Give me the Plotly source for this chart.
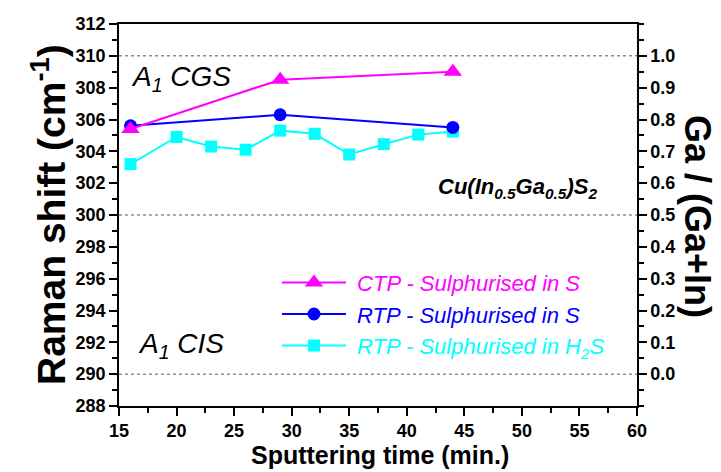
import plotly.graph_objects as go

# Raman A1 peak position vs. sputtering time for three sulphurisation routes
t_ctp = [16, 29, 44]
raman_ctp = [305.4, 308.5, 309.0]

t_rtp_s = [16, 29, 44]
raman_rtp_s = [305.6, 306.3, 305.5]

t_rtp_h2s = [16, 20, 23, 26, 29, 32, 35, 38, 41, 44]
raman_rtp_h2s = [303.2, 304.9, 304.3, 304.1, 305.3, 305.1, 303.8, 304.45, 305.05, 305.25]

names = {
    "ctp": "<span style='color:#FF00FF'>&nbsp;CTP - Sulphurised in S</span>",
    "rtp_s": "<span style='color:#0000FF'>&nbsp;RTP - Sulphurised in S</span>",
    "rtp_h2s": "<span style='color:#00FFFF'>&nbsp;RTP - Sulphurised in H<sub>2</sub>S</span>",
}

left_ticks = list(range(288, 313, 2))
right_ticks = [round(i * 0.1, 1) for i in range(11)]
x_ticks = list(range(15, 61, 5))
ref_lines = [310, 300, 290]

FONT = "Arial, Liberation Sans, sans-serif"

fig = go.Figure()
# drawn bottom-to-top: H2S series first, CTP on top; legend lists them reversed
fig.add_trace(go.Scatter(
    x=t_rtp_h2s, y=raman_rtp_h2s, name=names["rtp_h2s"], mode="lines+markers",
    line=dict(color="#00FFFF", width=2),
    marker=dict(symbol="square", size=12, color="#00FFFF")))
fig.add_trace(go.Scatter(
    x=t_rtp_s, y=raman_rtp_s, name=names["rtp_s"], mode="lines+markers",
    line=dict(color="#0000FF", width=2),
    marker=dict(symbol="circle", size=13, color="#0000FF")))
fig.add_trace(go.Scatter(
    x=t_ctp, y=raman_ctp, name=names["ctp"], mode="lines+markers",
    line=dict(color="#FF00FF", width=2),
    marker=dict(symbol="triangle-up", size=16, color="#FF00FF")))
# empty trace to activate the secondary composition axis
fig.add_trace(go.Scatter(x=[], y=[], yaxis="y2", showlegend=False, hoverinfo="skip"))

for yv in ref_lines:
    fig.add_shape(type="line", xref="paper", x0=0, x1=1, yref="y", y0=yv, y1=yv,
                  line=dict(color="#555555", width=1, dash="dot"))

tickfont = dict(family="Arial", size=18, color="black", weight="bold")
axis_common = dict(showline=True, linecolor="black", linewidth=1.5, ticks="outside",
                   ticklen=8, tickwidth=1.5, tickcolor="black", showgrid=False,
                   zeroline=False, tickmode="array", tickfont=tickfont)

fig.update_layout(
    width=721, height=472,
    margin=dict(l=119, r=84, t=24, b=66),
    plot_bgcolor="white", paper_bgcolor="white",
    font=dict(family=FONT),
    legend=dict(x=0.305, y=0.378, xanchor="left", yanchor="top",
                bgcolor="rgba(0,0,0,0)", font=dict(family=FONT, size=22, style="italic"),
                itemwidth=64, tracegroupgap=0, traceorder="reversed"),
    showlegend=True,
    xaxis=dict(range=[15, 60], tickvals=x_ticks, ticktext=[str(v) for v in x_ticks],
               mirror=True,
               minor=dict(dtick=2.5, tick0=15, ticklen=5, tickwidth=1.5,
                          tickcolor="black", ticks="outside", showgrid=False),
               **axis_common),
    yaxis=dict(range=[288, 312], tickvals=left_ticks,
               ticktext=[str(v) for v in left_ticks],
               minor=dict(dtick=1, tick0=288, ticklen=5, tickwidth=1.5,
                          tickcolor="black", ticks="outside", showgrid=False),
               **axis_common),
    yaxis2=dict(range=[-0.1, 1.1], overlaying="y", side="right", anchor="x",
                tickvals=right_ticks, ticktext=[f"{v:.1f}" for v in right_ticks],
                minor=dict(dtick=0.05, tick0=0, ticklen=5, tickwidth=1.5,
                           tickcolor="black", ticks="outside", showgrid=False),
                **axis_common),
)


def px_x(p):
    return (p - 119) / 518


def px_y(p):
    return (406 - p) / 382


annotations = [
    dict(text="A<sub>1</sub> CGS", x=15.9, y=308.6, xref="x", yref="y",
         xanchor="left", yanchor="middle", showarrow=False,
         font=dict(family=FONT, size=28, color="black", style="italic")),
    dict(text="A<sub>1</sub> CIS", x=16.5, y=291.8, xref="x", yref="y",
         xanchor="left", yanchor="middle", showarrow=False,
         font=dict(family=FONT, size=28, color="black", style="italic")),
    dict(text="Cu(In<sub>0.5</sub>Ga<sub>0.5</sub>)S<sub>2</sub>", x=49.6, y=301.7,
         xref="x", yref="y", xanchor="center", yanchor="middle", showarrow=False,
         font=dict(family=FONT, size=22, color="black", style="italic", weight="bold")),
    dict(text="Raman shift (cm<sup>-1</sup>)", x=px_x(48), y=px_y(215),
         xref="paper", yref="paper", xanchor="center", yanchor="middle",
         textangle=-90, showarrow=False,
         font=dict(family=FONT, size=39, color="black", weight="bold")),
    dict(text="Ga / (Ga+In)", x=px_x(698), y=px_y(216),
         xref="paper", yref="paper", xanchor="center", yanchor="middle",
         textangle=90, showarrow=False,
         font=dict(family=FONT, size=36, color="black", weight="bold")),
    dict(text="Sputtering time (min.)", x=px_x(380), y=px_y(455),
         xref="paper", yref="paper", xanchor="center", yanchor="middle",
         showarrow=False,
         font=dict(family=FONT, size=25, color="black", weight="bold")),
]
fig.update_layout(annotations=annotations)

fig.write_html("out.html")
